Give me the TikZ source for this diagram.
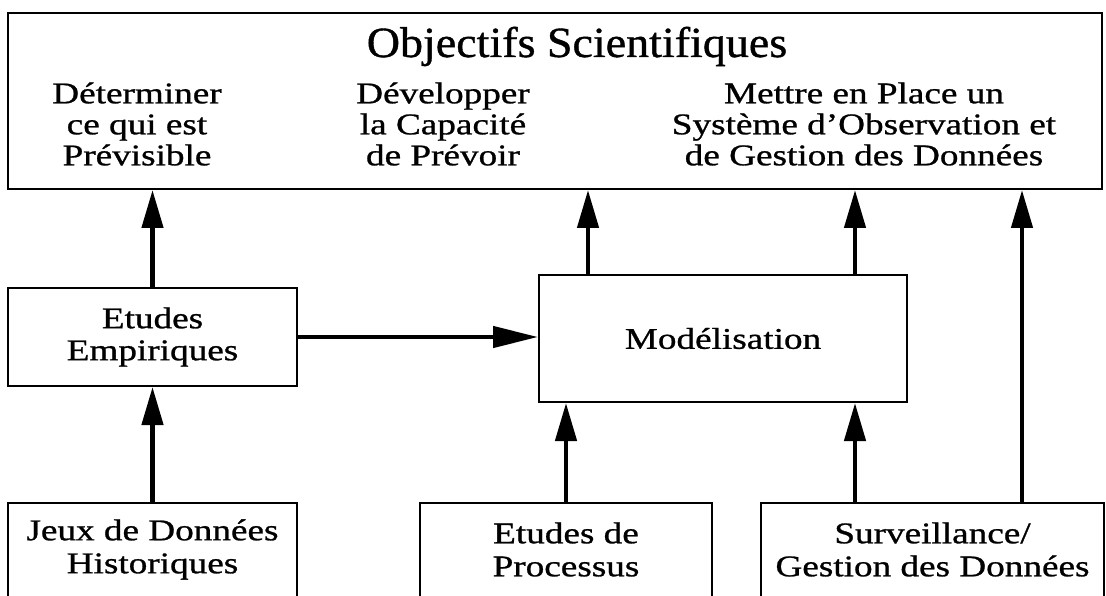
\documentclass[tikz,border=0pt]{standalone}
\usepackage{fontspec}
\setmainfont{Liberation Serif}[FakeStretch=1.24,FakeBold=0.9]
\newfontfamily\titlefont{Liberation Serif}[FakeStretch=1.07,FakeBold=0.9]
\usetikzlibrary{arrows.meta}
\begin{document}
\begin{tikzpicture}[x=1pt,y=-1pt,
  boxline/.style={draw, line width=2pt},
  box/.style={boxline, inner sep=0pt, align=center, font=\fontsize{30}{32}\selectfont},
  openbox/.style={inner sep=0pt, align=center, font=\fontsize{30}{33}\selectfont},
  lbl/.style={inner sep=0pt, align=center, font=\fontsize{30}{31}\selectfont},
  arr/.style={line width=4.5pt, -{Triangle[length=38pt,width=21pt]}},
  harr/.style={line width=4.5pt, -{Triangle[length=45pt,width=21pt]}},
]
\clip (0,0) rectangle (1106,596);
% top box
\node[boxline, inner sep=0pt, minimum width=1094pt, minimum height=176pt] (obj) at (555,101) {};
\node[inner sep=0pt, anchor=base, font=\titlefont\fontsize{43}{46}\selectfont] (title) at (577,57) {Objectifs Scientifiques};
\node[lbl] (g1) at (137,124) {Déterminer\\ce qui est\\Prévisible};
\node[lbl] (g2) at (443,124) {Développer\\la Capacité\\de Prévoir};
\node[lbl] (g3) at (864,124) {Mettre en Place un\\Système d’Observation et\\de Gestion des Données};
% middle boxes
\node[box, minimum width=289pt, minimum height=98pt] (emp) at (152.5,337) {Etudes\\Empiriques};
\node[box, minimum width=368pt, minimum height=127pt] (mod) at (723,338.5) {Modélisation};
% bottom boxes (open at the bottom edge)
\node[openbox, minimum width=289pt, minimum height=93pt] (jeux) at (152.5,549.5) {Jeux de Données\\Historiques};
\node[openbox, minimum width=292pt, minimum height=93pt] (proc) at (566,549.5) {Etudes de\\Processus};
\node[openbox, minimum width=343pt, minimum height=93pt] (surv) at (932.5,549.5) {Surveillance/\\Gestion des Données};
\foreach \b in {jeux,proc,surv}
  \draw[boxline] ([yshift=-6pt]\b.south west) -- (\b.north west) -- (\b.north east) -- ([yshift=-6pt]\b.south east);
% connectors
\draw[arr] (emp.north) -- (emp.north |- obj.south);
\draw[arr] (jeux.north) -- (emp.south);
\draw[harr] (emp.east) -- (mod.west |- emp.east);
\coordinate (m1) at ([xshift=-135pt]mod.north);
\coordinate (m2) at ([xshift=132pt]mod.north);
\draw[arr] (m1) -- (m1 |- obj.south);
\draw[arr] (m2) -- (m2 |- obj.south);
\draw[arr] (proc.north) -- (proc.north |- mod.south);
\coordinate (s1) at ([xshift=-77.5pt]surv.north);
\coordinate (s2) at ([xshift=89.5pt]surv.north);
\draw[arr] (s1) -- (s1 |- mod.south);
\draw[arr] (s2) -- (s2 |- obj.south);
\end{tikzpicture}
\end{document}
